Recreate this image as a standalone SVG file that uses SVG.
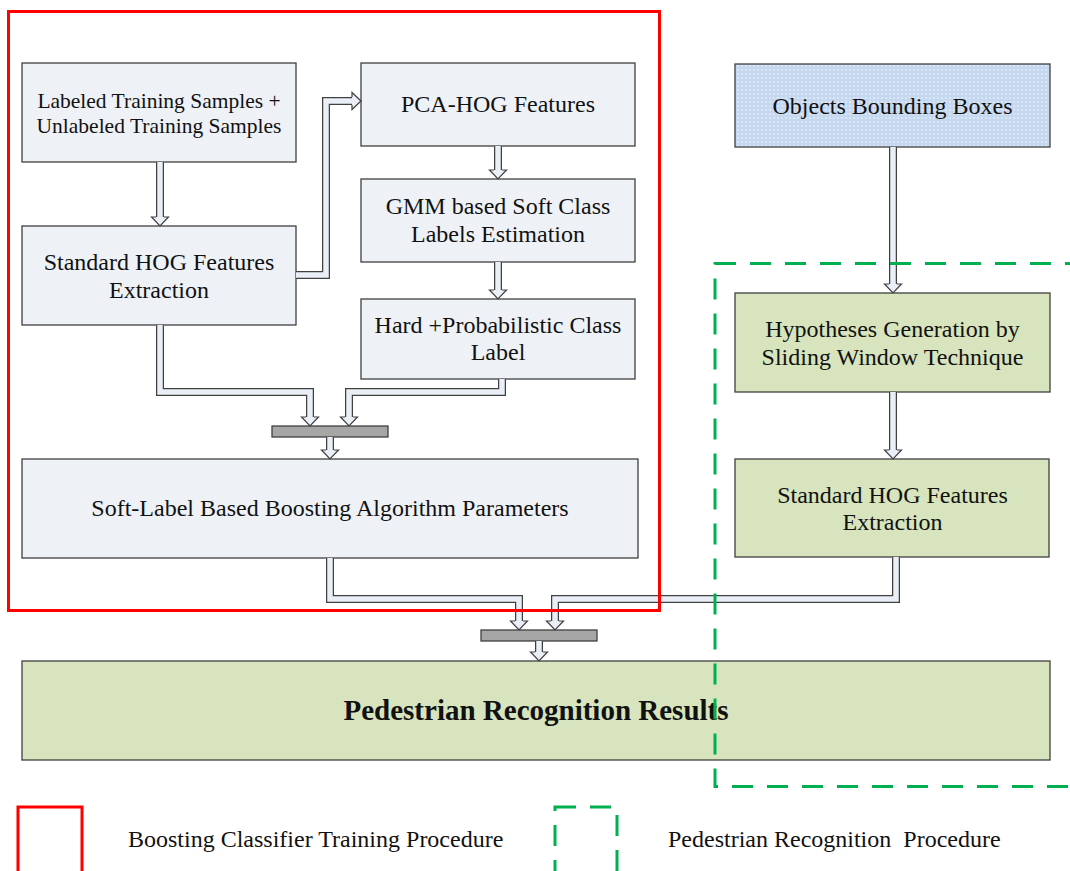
<svg xmlns="http://www.w3.org/2000/svg" xmlns:xlink="http://www.w3.org/1999/xlink" width="1070" height="871" viewBox="0 0 1070 871">
<style>
.box{fill:#eef1f6;stroke:#404040;stroke-width:1.3}
.gbox{fill:#d7e4bd;stroke:#404040;stroke-width:1.3}
.bar{fill:#a6a6a6;stroke:#404040;stroke-width:1.3}
.t{font-family:"Liberation Serif","Times New Roman",serif;font-size:24px;fill:#111;text-anchor:middle}
.ts{font-size:21.5px}
.tb{font-weight:bold;font-size:29px}
.lg{font-family:"Liberation Serif","Times New Roman",serif;font-size:24px;fill:#111;white-space:pre}
.outer{fill:none;stroke:#404040;stroke-width:8;stroke-linejoin:miter}
.inner{fill:none;stroke:#e9eef7;stroke-width:5.5;stroke-linejoin:miter}
.head{fill:#e9eef7;stroke:none}
.hl{fill:none;stroke:#404040;stroke-width:1.2;stroke-linejoin:miter}
.red{fill:none;stroke:#ff0000;stroke-width:3}
.grn{fill:none;stroke:#00b050;stroke-width:3;stroke-dasharray:21 14}
</style>
<defs>
<pattern id="dots" width="4" height="4" patternUnits="userSpaceOnUse">
<rect width="4" height="4" fill="#c5d8f0"/>
<circle cx="2" cy="2" r="0.9" fill="#e4edf9"/>
</pattern>
</defs>

<g id="n-labeled"><rect class="box" x="22" y="63" width="274" height="99"/>
<text class="t ts" x="159" y="108">Labeled Training Samples +</text>
<text class="t ts" x="159" y="133">Unlabeled Training Samples</text></g>
<g id="n-stdhog1"><rect class="box" x="22" y="226" width="274" height="99"/>
<text class="t" x="159" y="270">Standard HOG Features</text>
<text class="t" x="159" y="298">Extraction</text></g>
<g id="n-pca"><rect class="box" x="361" y="63" width="274" height="83"/>
<text class="t" x="498" y="112">PCA-HOG Features</text></g>
<g id="n-gmm"><rect class="box" x="361" y="179" width="274" height="83"/>
<text class="t" x="498" y="214">GMM based Soft Class</text>
<text class="t" x="498" y="242">Labels Estimation</text></g>
<g id="n-hard"><rect class="box" x="361" y="299" width="274" height="80"/>
<text class="t" x="498" y="333">Hard +Probabilistic Class</text>
<text class="t" x="498" y="360">Label</text></g>
<g id="n-bar1"><rect class="bar" x="272" y="426" width="116" height="11"/></g>
<g id="n-soft"><rect class="box" x="22" y="459" width="616" height="99"/>
<text class="t" x="330" y="516">Soft-Label Based Boosting Algorithm Parameters</text></g>
<g id="n-objects"><rect x="735" y="64" width="315" height="83" fill="url(#dots)" stroke="#404040" stroke-width="1.3"/>
<text class="t" x="892.5" y="114">Objects Bounding Boxes</text></g>
<g id="n-hyp"><rect class="gbox" x="735" y="293" width="315" height="99"/>
<text class="t" x="892.5" y="337">Hypotheses Generation by</text>
<text class="t" x="892.5" y="365">Sliding Window Technique</text></g>
<g id="n-stdhog2"><rect class="gbox" x="735" y="459" width="314" height="98"/>
<text class="t" x="892.5" y="503">Standard HOG Features</text>
<text class="t" x="892.5" y="530">Extraction</text></g>
<g id="n-bar2"><rect class="bar" x="481" y="630" width="116" height="11"/></g>
<g id="n-result"><rect class="gbox" x="22" y="661" width="1028" height="99"/>
<text class="t tb" x="536" y="720">Pedestrian Recognition Results</text></g>

<g id="connectors">
<path class="outer" d="M160,162V217"/>
<path class="outer" d="M296,275H326V101H352"/>
<path class="outer" d="M498,146V170"/>
<path class="outer" d="M498,262V290"/>
<path class="outer" d="M160,325V392H310V417"/>
<path class="outer" d="M502,379V392H349V417"/>
<path class="outer" d="M330,437V450"/>
<path class="outer" d="M330,558V599H519V621"/>
<path class="outer" d="M896,557V599H555V621"/>
<path class="outer" d="M539,641V652"/>
<path class="outer" d="M893,147V284"/>
<path class="outer" d="M893,392V450"/>

<path class="head" d="M151.5,217H168.5L160,226Z"/><path class="hl" d="M156,217H151.5L160,226L168.5,217H164"/>
<path class="head" d="M352,92.5V109.5L361,101Z"/><path class="hl" d="M352,97V92.5L361,101L352,109.5V105"/>
<path class="head" d="M489.5,170H506.5L498,179Z"/><path class="hl" d="M494,170H489.5L498,179L506.5,170H502"/>
<path class="head" d="M489.5,290H506.5L498,299Z"/><path class="hl" d="M494,290H489.5L498,299L506.5,290H502"/>
<path class="head" d="M301.5,417H318.5L310,426Z"/><path class="hl" d="M306,417H301.5L310,426L318.5,417H314"/>
<path class="head" d="M340.5,417H357.5L349,426Z"/><path class="hl" d="M345,417H340.5L349,426L357.5,417H353"/>
<path class="head" d="M321.5,450H338.5L330,459Z"/><path class="hl" d="M326,450H321.5L330,459L338.5,450H334"/>
<path class="head" d="M510.5,621H527.5L519,630Z"/><path class="hl" d="M515,621H510.5L519,630L527.5,621H523"/>
<path class="head" d="M546.5,621H563.5L555,630Z"/><path class="hl" d="M551,621H546.5L555,630L563.5,621H559"/>
<path class="head" d="M530.5,652H547.5L539,661Z"/><path class="hl" d="M535,652H530.5L539,661L547.5,652H543"/>
<path class="head" d="M884.5,284H901.5L893,293Z"/><path class="hl" d="M889,284H884.5L893,293L901.5,284H897"/>
<path class="head" d="M884.5,450H901.5L893,459Z"/><path class="hl" d="M889,450H884.5L893,459L901.5,450H897"/>

<path class="inner" d="M160,162V218"/>
<path class="inner" d="M296,275H326V101H353"/>
<path class="inner" d="M498,146V171"/>
<path class="inner" d="M498,262V291"/>
<path class="inner" d="M160,325V392H310V418"/>
<path class="inner" d="M502,379V392H349V418"/>
<path class="inner" d="M330,437V451"/>
<path class="inner" d="M330,558V599H519V622"/>
<path class="inner" d="M896,557V599H555V622"/>
<path class="inner" d="M539,641V653"/>
<path class="inner" d="M893,147V285"/>
<path class="inner" d="M893,392V451"/>
</g>

<g id="frames">
<rect class="red" x="8.5" y="11.5" width="651" height="599"/>
<rect class="grn" x="715" y="263.5" width="370" height="523"/>
</g>

<g id="legend">
<rect class="red" x="18" y="807" width="64" height="80"/>
<text class="lg" x="128" y="847">Boosting Classifier Training Procedure</text>
<rect class="grn" x="555" y="807" width="62" height="80"/>
<text class="lg" x="668" y="847">Pedestrian Recognition  Procedure</text>
</g>
</svg>
